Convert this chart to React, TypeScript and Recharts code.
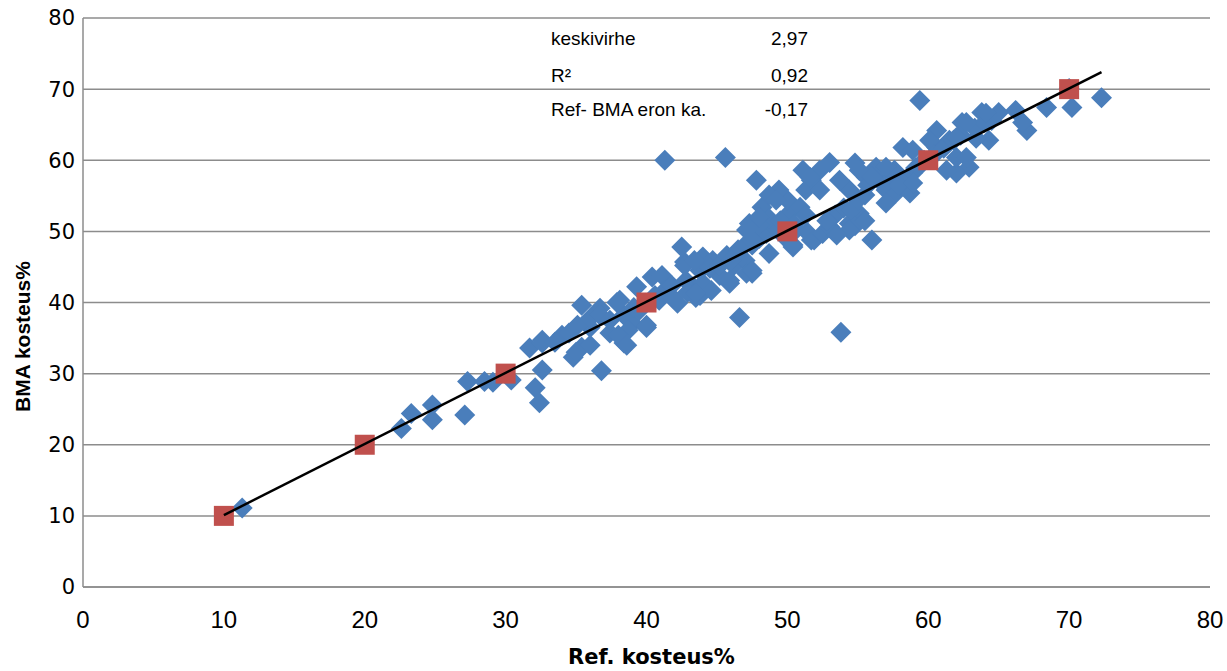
import React from 'react';
import { ScatterChart, Scatter, XAxis, YAxis, CartesianGrid, Label } from 'recharts';

const refValues = [
  11.3, 22.6, 23.3, 24.8, 24.8, 27.1, 27.3, 28.5, 29.1, 30.4,
  32.1, 32.4, 32.6, 31.7, 32.6, 32.6, 36.8,
  34.0, 34.8, 35.4, 35.4, 36.7, 37.9, 36.0, 37.4, 38.4, 39.3, 40.4, 41.1, 39.0, 40.0, 42.2, 42.5, 42.7, 43.5, 44.0, 44.7, 45.9, 46.6, 47.5, 47.5, 48.2, 50.1,
  59.4, 72.3, 70.2, 70.0, 68.4, 66.2, 67.0, 66.7, 63.8, 64.5, 62.4, 64.3, 63.4, 60.6, 61.5, 62.9, 62.0, 61.3, 58.2, 58.9, 56.0, 53.8, 47.8, 51.1, 53.0, 52.3, 51.7, 50.0, 49.4, 47.3, 48.7, 50.4, 51.7, 53.0, 54.4, 55.1, 54.4, 55.6, 56.3, 57.0, 57.7, 58.7, 58.2, 58.9, 59.6, 60.6, 60.1, 62.0, 62.7,
  41.3, 45.6,
  43.3, 43.8, 45.2, 46.2, 47.0, 47.5, 48.0, 48.5, 49.1, 49.8, 50.4, 50.6, 51.4, 51.9, 52.5, 53.1, 53.4, 54.0, 54.5, 55.0, 55.5, 55.7, 56.5, 57.2, 57.6, 57.9, 59.1, 59.7, 60.4, 61.1, 61.8, 62.3, 63.3, 64.0, 65.0,
  33.5, 34.5, 35.1, 36.0, 36.7, 37.4, 38.4, 39.1, 39.9, 40.6, 41.3, 41.8, 42.8, 43.8, 44.5, 45.2, 45.7, 46.5, 47.0, 39.5, 40.9, 41.9, 42.9, 44.0, 44.6, 42.7, 43.4, 38.7, 38.0, 36.0, 35.0,
  48.7, 49.2, 50.9, 51.3, 52.3, 53.7, 54.8, 55.1, 51.3, 48.7, 48.0, 54.8, 55.5,
  45.9, 43.5, 47.1, 47.5, 38.6, 38.1, 40.0, 47.5, 51.6, 56.0, 57.0, 54.4, 47.1, 48.0, 62.7, 64.1, 62.0, 58.9, 57.0, 52.8, 53.5, 46.0, 49.5, 50.5,
];
const bmaValues = [
  11.1, 22.3, 24.4, 25.6, 23.5, 24.2, 28.9, 28.9, 28.8, 29.1,
  28.0, 25.9, 30.5, 33.6, 34.7, 34.3, 30.4,
  35.4, 32.3, 33.7, 39.6, 39.2, 40.0, 36.5, 35.7, 34.3, 42.2, 43.6, 43.8, 37.1, 36.5, 39.9, 47.8, 45.7, 40.7, 46.4, 45.9, 42.7, 37.9, 44.1, 49.7, 53.4, 52.5,
  68.4, 68.8, 67.4, 70.1, 67.4, 67.0, 64.2, 65.3, 66.7, 65.6, 65.3, 62.8, 63.1, 64.2, 62.8, 59.0, 58.2, 58.6, 61.8, 61.4, 48.8, 35.8, 57.2, 58.6, 59.7, 58.6, 57.2, 54.4, 55.8, 51.1, 46.9, 47.8, 48.8, 50.6, 51.1, 52.5, 55.8, 57.6, 59.0, 55.8, 55.4, 55.4, 57.2, 58.2, 59.6, 61.8, 62.8, 60.4, 60.4,
  60.0, 60.4,
  42.2, 41.0, 43.8, 45.2, 45.9, 48.1, 49.0, 49.7, 50.6, 49.2, 48.1, 50.2, 49.9, 48.8, 49.7, 50.4, 52.3, 53.3, 53.0, 54.4, 55.1, 56.5, 57.2, 57.2, 58.6, 56.5, 58.9, 60.0, 60.7, 61.7, 62.8, 63.5, 64.5, 65.3, 66.7,
  34.4, 35.7, 36.8, 37.8, 38.2, 37.5, 38.2, 39.3, 39.9, 41.0, 41.7, 42.4, 43.1, 44.5, 44.8, 45.2, 46.6, 47.4, 48.1, 38.9, 40.3, 40.6, 41.4, 42.7, 41.7, 45.2, 45.9, 36.1, 35.4, 34.0, 33.0,
  55.1, 54.4, 53.4, 55.8, 55.8, 57.2, 59.6, 58.6, 52.3, 51.8, 50.9, 50.8, 51.5,
  43.1, 41.3, 44.1, 48.8, 34.0, 40.3, 36.8, 44.5, 57.6, 57.6, 54.0, 50.2, 50.2, 52.0, 65.3, 66.6, 63.2, 56.8, 59.0, 51.5, 49.5, 46.0, 51.5, 51.0,
];

const calibRef = [10, 20, 30, 40, 50, 60, 70];
const calibBma = [10, 20, 30, 40, 50, 60, 70];

const trendX = [10, 72.3];
const trendY = [10.1, 72.4];

const xTicks = [0, 10, 20, 30, 40, 50, 60, 70, 80];
const yTicks = [0, 10, 20, 30, 40, 50, 60, 70, 80];

const statLabels = ['keskivirhe', 'R²', 'Ref- BMA eron ka.'];
const statValues = ['2,97', '0,92', '-0,17'];

const xTitle = 'Ref. kosteus%';
const yTitle = 'BMA kosteus%';

const blueData = refValues.map((x, i) => ({ x, y: bmaValues[i] }));
const calibData = calibRef.map((x, i) => ({ x, y: calibBma[i] }));
const trendData = trendX.map((x, i) => ({ x, y: trendY[i] }));

const BLUE = '#4A7EBB';
const RED = '#C0504D';
const GRID = '#8c8c8c';

const Diamond = (props: any) => {
  const { cx, cy } = props;
  const r = 10.5;
  return (
    <polygon
      points={`${cx},${cy - r} ${cx + r},${cy} ${cx},${cy + r} ${cx - r},${cy}`}
      fill={BLUE}
    />
  );
};

const Square = (props: any) => {
  const { cx, cy } = props;
  const s = 20;
  return <rect x={cx - s / 2} y={cy - s / 2} width={s} height={s} fill={RED} />;
};

const NoShape = () => <g />;

const rowCapCenters = [39, 76, 110];

export default function App() {
  return (
    <div style={{ position: 'absolute', left: 0, top: 0, width: 1227, height: 671, background: '#fff' }}>
      <ScatterChart width={1227} height={671} margin={{ top: 18, right: 17, bottom: 0, left: 0 }}>
        <CartesianGrid vertical={false} stroke={GRID} strokeWidth={1.5} />
        <XAxis
          type="number"
          dataKey="x"
          domain={[0, 80]}
          ticks={xTicks}
          height={84}
          axisLine={{ stroke: GRID, strokeWidth: 1.5 }}
          tickLine={false}
          tickMargin={18}
          tick={{ fontFamily: 'Liberation Sans, Arial, sans-serif', fontSize: 24, fill: '#000' }}
        >
          <Label
            content={(p: any) => {
              const vb = p.viewBox;
              return (
                <text
                  x={vb.x + vb.width / 2 + 5}
                  y={vb.y + vb.height - 7}
                  textAnchor="middle"
                  fontFamily="DejaVu Sans, sans-serif"
                  fontWeight="bold"
                  fontSize={21}
                  fill="#000"
                >
                  {xTitle}
                </text>
              );
            }}
          />
        </XAxis>
        <YAxis
          type="number"
          dataKey="y"
          domain={[0, 80]}
          ticks={yTicks}
          width={83}
          axisLine={{ stroke: GRID, strokeWidth: 1.5 }}
          tickLine={false}
          tick={{ fontFamily: 'DejaVu Sans, sans-serif', fontSize: 21, fill: '#000' }}
        >
          <Label
            content={(p: any) => {
              const vb = p.viewBox;
              const cx = vb.x + 22;
              const cy = vb.y + vb.height / 2 + 34;
              return (
                <text
                  x={cx}
                  y={cy}
                  transform={`rotate(-90 ${cx} ${cy})`}
                  textAnchor="middle"
                  dominantBaseline="central"
                  fontFamily="Liberation Sans, sans-serif"
                  fontWeight="bold"
                  fontSize={21}
                  fill="#000"
                >
                  {yTitle}
                </text>
              );
            }}
          />
        </YAxis>
        <Scatter data={blueData} shape={Diamond} isAnimationActive={false} />
        <Scatter data={calibData} shape={Square} isAnimationActive={false} />
        <Scatter
          data={trendData}
          shape={NoShape}
          line={{ stroke: '#000', strokeWidth: 2.5 }}
          isAnimationActive={false}
        />
      </ScatterChart>
      {statLabels.map((lab, i) => (
        <div
          key={lab}
          style={{
            position: 'absolute',
            left: 551,
            top: rowCapCenters[i] - 12,
            width: 260,
            height: 24,
            lineHeight: '24px',
            fontFamily: 'Liberation Sans, sans-serif',
            fontSize: 19,
            color: '#000',
          }}
        >
          <span>{lab}</span>
          <span style={{ position: 'absolute', right: 3, top: 0 }}>{statValues[i]}</span>
        </div>
      ))}
    </div>
  );
}
